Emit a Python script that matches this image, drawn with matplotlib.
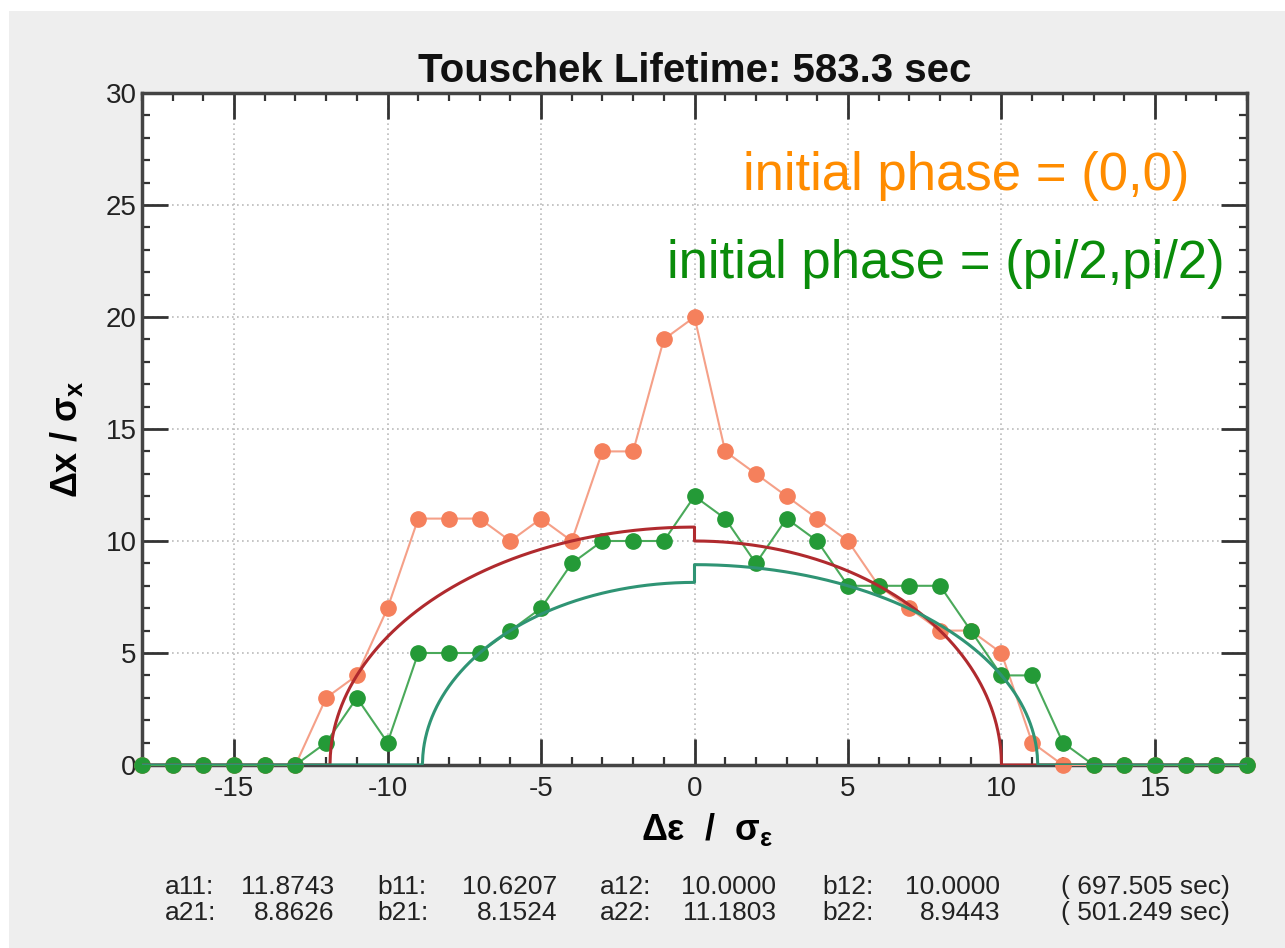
import numpy as np
import matplotlib
matplotlib.use("Agg")
import matplotlib.pyplot as plt
from matplotlib.patches import Rectangle
from matplotlib.ticker import MultipleLocator

# data
de = list(range(-18, 19))
dx_phase00 = [0, 0, 0, 0, 0, 0, 3, 4, 7, 11, 11, 11, 10, 11, 10, 14, 14, 19, 20,
              14, 13, 12, 11, 10, 8, 7, 6, 6, 5, 1, 0, 0, 0, 0, 0, 0, 0]
dx_phase_pi2 = [0, 0, 0, 0, 0, 0, 1, 3, 1, 5, 5, 5, 6, 7, 9, 10, 10, 10, 12,
                11, 9, 11, 10, 8, 8, 8, 8, 6, 4, 4, 1, 0, 0, 0, 0, 0, 0]

# half-ellipse fit parameters (left a1,b1 / right a2,b2)
fit1 = (11.8743, 10.6207, 10.0000, 10.0000)
fit2 = (8.8626, 8.1524, 11.1803, 8.9443)
fit_life = ["697.505", "501.249"]
title = "Touschek Lifetime: 583.3 sec"

sans = ["Liberation Sans", "DejaVu Sans"]
plt.rcParams["font.family"] = sans
plt.rcParams["axes.unicode_minus"] = False
plt.rcParams["mathtext.fontset"] = "custom"
plt.rcParams["mathtext.rm"] = "Liberation Sans:bold"
plt.rcParams["mathtext.it"] = "Liberation Sans:bold"
plt.rcParams["mathtext.bf"] = "Liberation Sans:bold"


def half_ellipses(a1, b1, a2, b2):
    xl = np.linspace(-18, 0, 1500)
    xr = np.linspace(0, 18, 1500)
    yl = b1 * np.sqrt(np.clip(1 - (xl / a1) ** 2, 0, None))
    yr = b2 * np.sqrt(np.clip(1 - (xr / a2) ** 2, 0, None))
    return np.concatenate([xl, xr]), np.concatenate([yl, yr])


fig = plt.figure(figsize=(12.85, 9.48), dpi=100, facecolor="white")
fig.patches.append(Rectangle((9 / 1285, 0), 1, 1 - 11 / 948, transform=fig.transFigure,
                             facecolor="#eeeeee", edgecolor="none", zorder=-10))
ax = fig.add_axes([142 / 1285, 1 - 765 / 948, 1105 / 1285, 672 / 948])
ax.set_facecolor("white")

ax.plot(de, dx_phase00, color="#f5a088", lw=1.5, marker="o", ms=11,
        mfc="#f5805c", mec="#f5805c", zorder=3, clip_on=False)
ax.plot(de, dx_phase_pi2, color="#4aa95a", lw=1.5, marker="o", ms=11,
        mfc="#249a37", mec="#249a37", zorder=4, clip_on=False)

x1, y1 = half_ellipses(*fit1)
x2, y2 = half_ellipses(*fit2)
ax.plot(x1, y1, color="#b02a2e", lw=2.2, zorder=5)
ax.plot(x2, y2, color="#2f9474", lw=2.2, zorder=6)

ax.set_xlim(-18, 18)
ax.set_ylim(0, 30)
ax.xaxis.set_major_locator(MultipleLocator(5))
ax.xaxis.set_minor_locator(MultipleLocator(1))
ax.yaxis.set_major_locator(MultipleLocator(5))
ax.yaxis.set_minor_locator(MultipleLocator(1))
ax.tick_params(which="both", direction="in", top=True, right=True, color="#333333")
ax.tick_params(which="major", length=19, width=2, labelsize=20, pad=8, labelcolor="#222222")
ax.tick_params(which="minor", length=6, width=1.6)
ax.tick_params(axis="y", pad=4)
ax.set_xticks([-15, -10, -5, 0, 5, 10, 15])
ax.grid(True, which="major", linestyle=(0, (1, 2)), color="#bbbbbb", lw=1.2)
for s in ax.spines.values():
    s.set_linewidth(2.5)
    s.set_color("#444444")

ax.set_title(title, fontsize=29, fontweight="bold", pad=8, color="#111111")
ax.set_xlabel("Δε  /  σ$_{\\mathrm{ε}}$", fontsize=26, fontweight="bold")
ax.set_ylabel("Δx / σ$_{\\mathrm{x}}$", fontsize=26, fontweight="bold")
ax.xaxis.set_label_coords(0.511, -0.068)
ax.yaxis.set_label_coords(-0.052, 0.484)

ax.text(0.948, 0.876, "initial phase = (0,0)", transform=ax.transAxes, ha="right",
        va="center", fontsize=38, color="#ff8c00")
ax.text(0.980, 0.746, "initial phase = (pi/2,pi/2)", transform=ax.transAxes, ha="right",
        va="center", fontsize=38, color="#0a8c0a")

# fit parameters below the plot
rows = [("a11:", "b11:", "a12:", "b12:"), ("a21:", "b21:", "a22:", "b22:")]
fits = [fit1, fit2]
label_x = [165, 377, 600, 822]
value_x = [334, 557, 776, 1000]
for r, (names, vals) in enumerate(zip(rows, fits)):
    yy = 1 - (887 + 26 * r) / 948
    for nm, v, lx, vx in zip(names, vals, label_x, value_x):
        fig.text(lx / 1285, yy, nm, fontsize=19, color="#222222", va="center")
        fig.text(vx / 1285, yy, f"{v:.4f}", fontsize=19, color="#222222", va="center", ha="right")
    fig.text(1230 / 1285, yy, f"( {fit_life[r]} sec)", fontsize=19, color="#222222",
             va="center", ha="right")

fig.savefig("out.png", dpi=100)
